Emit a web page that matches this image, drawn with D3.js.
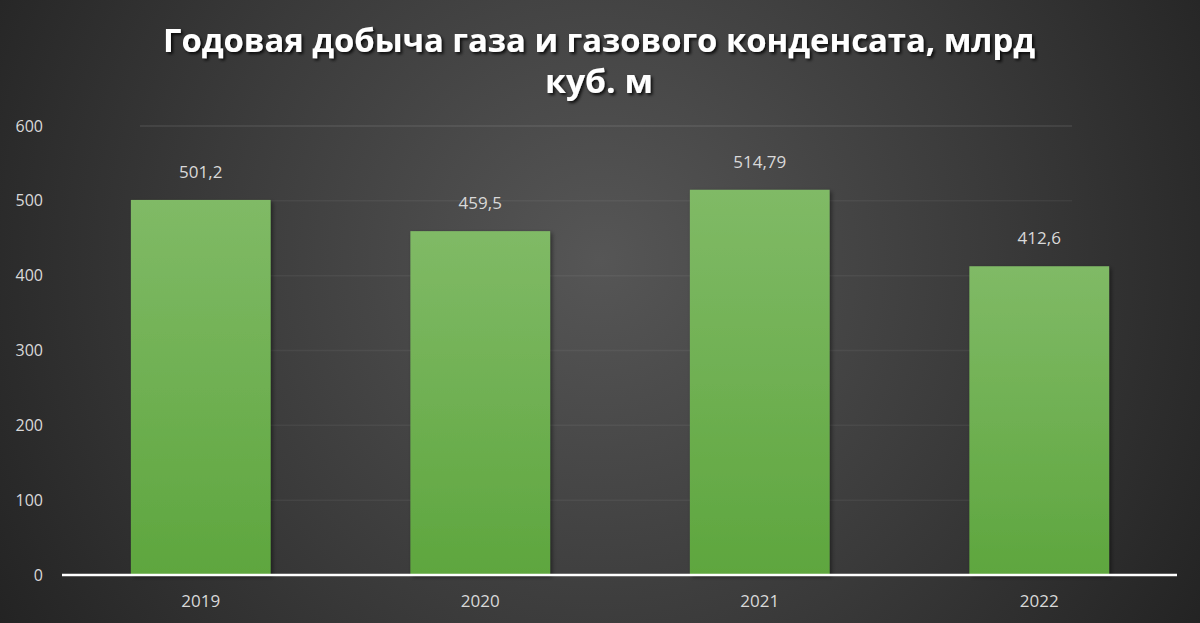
<!DOCTYPE html>
<html><head><meta charset="utf-8">
<script src="https://cdn.jsdelivr.net/npm/d3@7"></script>
<style>html,body{margin:0;padding:0;background:#2b2b2b;overflow:hidden}</style>
</head><body>
<svg id="c" width="1200" height="623"></svg>
<script>
const categories = ["2019","2020","2021","2022"];
const values = [501.2, 459.5, 514.79, 412.6];
const valueLabels = ["501,2","459,5","514,79","412,6"];
const yTicks = [0,100,200,300,400,500,600];
const titleLines = ["Годовая добыча газа и газового конденсата, млрд","куб. м"];

const W=1200,H=623;
const svg=d3.select("#c");
const defs=svg.append("defs");
const bg=defs.append("radialGradient").attr("id","bg").attr("gradientUnits","userSpaceOnUse")
  .attr("cx",600).attr("cy",260).attr("r",720);
bg.append("stop").attr("offset","0").attr("stop-color","#565656");
bg.append("stop").attr("offset","0.55").attr("stop-color","#3a3a3a");
bg.append("stop").attr("offset","1").attr("stop-color","#222222");
const bar=defs.append("linearGradient").attr("id","bar").attr("x1",0).attr("y1",0).attr("x2",0).attr("y2",1);
bar.append("stop").attr("offset","0").attr("stop-color","#80ba66");
bar.append("stop").attr("offset","1").attr("stop-color","#5ea63e");
const sh=defs.append("filter").attr("id","sh").attr("x","-20%").attr("y","-20%").attr("width","150%").attr("height","150%");
sh.append("feDropShadow").attr("dx",2).attr("dy",2).attr("stdDeviation",2).attr("flood-color","#000").attr("flood-opacity",0.45);
const tsh=defs.append("filter").attr("id","tsh").attr("x","-10%").attr("y","-30%").attr("width","120%").attr("height","160%");
tsh.append("feDropShadow").attr("dx",2).attr("dy",2).attr("stdDeviation",1.5).attr("flood-color","#000").attr("flood-opacity",0.8);

svg.append("rect").attr("width",W).attr("height",H).attr("fill","url(#bg)");

const x=d3.scaleBand().domain(categories).range([61,1179]).paddingInner(0.5).paddingOuter(0.25);
const y=d3.scaleLinear().domain([0,600]).range([575,126]);

// grid
svg.append("g").selectAll("line").data(yTicks.filter(d=>d>0)).join("line")
  .attr("x1",140).attr("x2",1072).attr("y1",d=>y(d)).attr("y2",d=>y(d))
  .attr("stroke","#ffffff").attr("stroke-opacity",d=>d===600?0.1:0.05).attr("stroke-width",1.5);

// y labels
const yAxis=d3.axisLeft(y).tickValues(yTicks).tickSize(0).tickPadding(0);
const ga=svg.append("g").attr("transform","translate(43,0)").call(yAxis);
ga.select(".domain").remove();
ga.selectAll("text").attr("fill","#d9d9d9").attr("font-family","'Open Sans',sans-serif").attr("font-size",16);

// bars
svg.append("g").selectAll("rect").data(values).join("rect")
  .attr("x",(d,i)=>x(categories[i])).attr("width",x.bandwidth())
  .attr("y",d=>y(d)).attr("height",d=>y(0)-y(d))
  .attr("fill","url(#bar)").attr("filter","url(#sh)");

// value labels
svg.append("g").selectAll("text").data(values).join("text")
  .attr("x",(d,i)=>x(categories[i])+x.bandwidth()/2).attr("y",d=>y(d)-22)
  .attr("text-anchor","middle").attr("fill","#d9d9d9")
  .attr("font-family","'Open Sans',sans-serif").attr("font-size",17)
  .text((d,i)=>valueLabels[i]);

// baseline / x axis
const xAxis=d3.axisBottom(x).tickSize(0).tickPadding(20);
const gx=svg.append("g").attr("transform","translate(0,575)").call(xAxis);
gx.select(".domain").attr("stroke","#ffffff").attr("stroke-width",2.5).attr("d","M62,0H1177");
gx.selectAll("text").attr("fill","#d9d9d9").attr("font-family","'Open Sans',sans-serif").attr("font-size",17);

// title
const tg=svg.append("g").attr("filter","url(#tsh)");
tg.append("text").attr("x",599).attr("y",52).attr("text-anchor","middle")
  .attr("font-family","'Open Sans',sans-serif").attr("font-weight","bold").attr("font-size",33)
  .attr("fill","#ffffff").attr("textLength",872).attr("lengthAdjust","spacingAndGlyphs").text(titleLines[0]);
tg.append("text").attr("x",599).attr("y",93).attr("text-anchor","middle")
  .attr("font-family","'Open Sans',sans-serif").attr("font-weight","bold").attr("font-size",33)
  .attr("fill","#ffffff").attr("textLength",108).attr("lengthAdjust","spacingAndGlyphs").text(titleLines[1]);
</script>
</body></html>
